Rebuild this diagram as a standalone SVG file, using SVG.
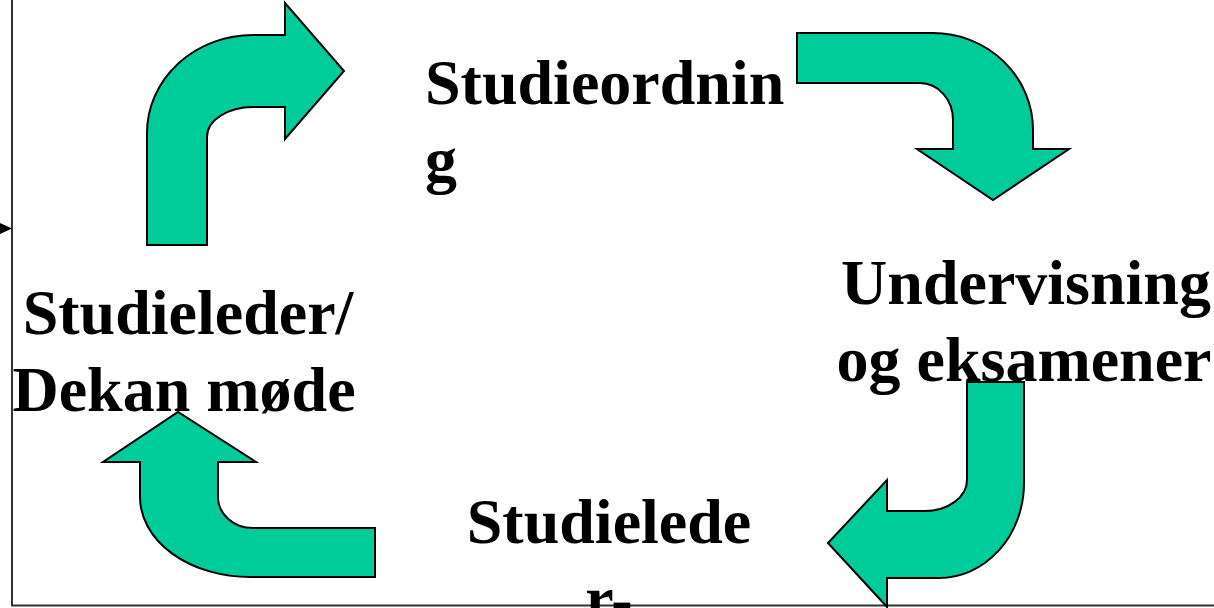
<svg xmlns="http://www.w3.org/2000/svg" width="1214" height="608" viewBox="0 0 1214 608">
<style>
.arr{fill:#00CC99;stroke:#000;stroke-width:2;stroke-linejoin:miter}
.t{font-family:"Liberation Serif","Times New Roman",serif;font-weight:bold;font-size:64px;fill:#000}
.frame{stroke:#333;stroke-width:2;fill:none}
</style>
<rect width="1214" height="608" fill="#fff"/>
<g id="frame">
<path class="frame" d="M12,0 L12,605.5 L1214,605.5"/>
<polygon points="0,223 12,228.5 0,234" fill="#000"/>
</g>
<g id="connectors">
<path id="arrow-up-right" class="arr" d="M147,245 L147,133 A106,98 0 0 1 253,35 L285,35 L285,3 L344,71 L285,139 L285,107 L253,107 A46,30 0 0 0 207,137 L207,245 Z"/>
<path id="arrow-right-down" class="arr" d="M797,33 L933,33 A100,97 0 0 1 1033,130 L1033,149 L1069,149 L993,200 L917,149 L953,149 L953,120 A33,37 0 0 0 920,83 L797,83 Z"/>
<path id="arrow-down-left" class="arr" d="M967,382 L1024,382 L1024,483 A85,95 0 0 1 939,578 L887,578 L887,607 L828,543 L887,480 L887,511 L925,511 A42,31 0 0 0 967,480 Z"/>
<path id="arrow-left-up" class="arr" d="M375,577 L250,577 A110,80 0 0 1 140,497 L140,462 L103,462 L178,412 L256,462 L218,462 L218,497 A35,31 0 0 0 253,528 L375,528 Z"/>
</g>
<g id="node-studieordning">
<text class="t" x="425" y="104">Studieordnin</text>
<text class="t" x="425" y="181">g</text>
</g>
<g id="node-undervisning">
<text class="t" x="1026" y="304" text-anchor="middle">Undervisning</text>
<text class="t" x="1024" y="381" text-anchor="middle">og eksamener</text>
</g>
<g id="node-studieledermote">
<text class="t" x="609" y="543" text-anchor="middle">Studielede</text>
<text class="t" x="609" y="620" text-anchor="middle">r-</text>
</g>
<g id="node-dekanmote">
<text class="t" x="188" y="334" text-anchor="middle">Studieleder/</text>
<text class="t" x="184" y="411" text-anchor="middle">Dekan møde</text>
</g>
</svg>
